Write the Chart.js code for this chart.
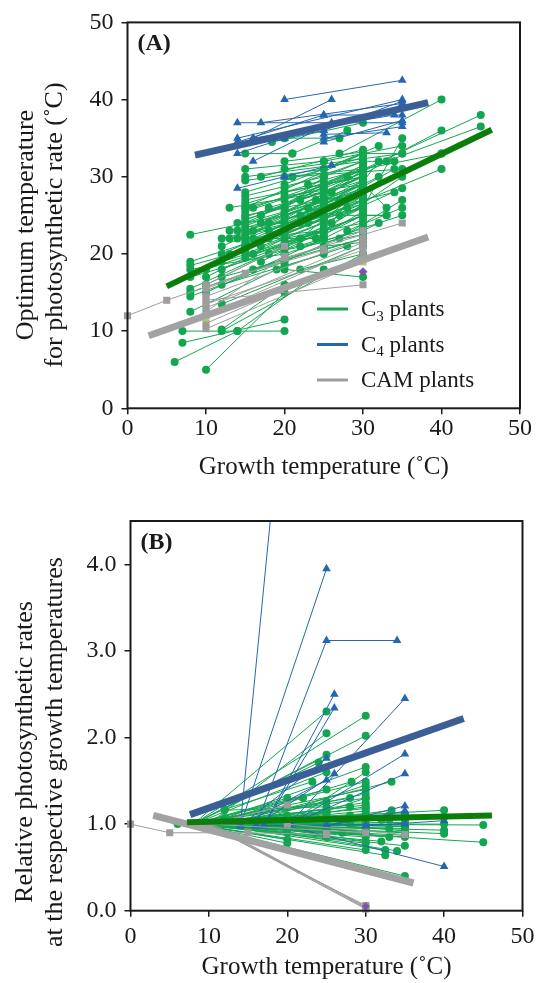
<!DOCTYPE html>
<html>
<head>
<title>Optimum temperature and relative photosynthetic rate vs growth temperature</title>
<script src="https://cdn.jsdelivr.net/npm/chart.js"></script>
<style>
  body { margin: 0; background: #fff; }
  .panel { position: absolute; left: 0; width: 542px; }
  #wrapA { top: 0; height: 490px; }
  #wrapB { top: 490px; height: 493px; }
</style>
</head>
<body>
<div id="wrapA" class="panel"><canvas id="chartA" width="542" height="490"></canvas></div>
<div id="wrapB" class="panel"><canvas id="chartB" width="542" height="493"></canvas></div>
<script>
// each entry: growth temp, value, growth temp, value, ... (one species / study)
const c3OptA = [
  [6,6,14,10], [7,8.5,20,11.5], [7,10,20,10], [10,5,20,15], [12,10,30,20],
  [14,10,25,18], [12,10.2,20,16], [8,12.5,20,18.5], [8,14.5,20,19], [8,15,25,21],
  [8,15.5,20,21], [8,17,25,22], [8,18,20,20], [8,19,20,23], [8,22.5,20,25],
  [12,13.5,30,21], [12,16,25,20], [12,18,30,25], [12,22,25,25], [13,22,30,26],
  [14,22,25,22], [13,26,25,28], [15,27,30,30], [15,26,30,33], [15,25,30,28],
  [15,24,25,27], [15,23,30,29], [15,22,25,23], [15,21,30,27], [15,20,25,24],
  [15,19.5,30,25], [15,29.5,25,31], [15,30,30,32], [15,33,21,33], [17,30,30,33.5],
  [18.4,34.5,30,37], [20,35,27,35], [21,33,28,36], [20,28,30,30], [20,31,35,33],
  [20,30,30,31], [21,30,35,31], [20,25,30,28], [20,22,30,24], [20,20,35,25],
  [20,18,30,17], [22,18,30,20], [25,23,35,30], [25,26,40,33], [25,28,40,36],
  [25,20.5,30,22], [27,25,33,25], [27,22,35,27], [28,26,40,31], [25,29,45,36.5],
  [28,30,45,38], [27,33,40,40], [30,32,34,32], [30,29,33,26], [30,27,34,28],
  [30,25,33,25], [30,26,35,35], [30,23,32,24], [25,31,32,34], [30,33,35,33],
  [17,21,30,26], [18,23,25,26], [10,16,20,21], [10,15,25,22], [12,17,30,22],
  [20,24,32,30], [22,21,30,23], [24,27,30,29], [20,26,25,30], [16,18,25,21],
  [18,20,30,25], [19,18,28,21], [22,25,30,27], [23,29,30,31], [26,24,32,32],
  [15,24.5,20,26], [15,23.5,20,24], [20,27,25,29], [25,25,30,26.5], [22,22,30,28.5],
  [8,18.5,15,20.5], [12,20,20,23.5],
  [15,25.5,30,30.5], [15,24,30,31], [15,22.5,30,28], [15,21.5,25,25], [15,20.5,30,26.5],
  [15,23,25,26], [15,26.5,25,29.5], [15,28,30,32.5], [20,21,30,26], [20,23,30,29.5],
  [20,26,30,31.5], [20,29,30,33], [20,24.5,25,27.5], [20,27.5,30,29], [20,19,30,23.5],
  [25,22,30,24.5], [25,27,30,31], [25,24,35,28.5], [25,30,30,32], [25,21,30,21.5],
  [18,22,30,27.5], [17,24,30,30], [16,26,30,31], [16,22,25,26], [17,19,25,23],
  [13,20,25,24.5], [12,19,25,23], [10,17,20,22], [10,18,25,23], [14,23,30,28.5],
  [22,27,30,30], [23,24,30,26], [24,22,30,25], [26,28,33,32], [27,27,34,31],
  [28,23,35,26], [25,32,35,34], [30,31,40,33], [20,32,30,33.2], [15,31,25,32],
  [15,22,30,27.5], [15,24.8,30,29.5], [15,21,25,24.5], [16,23,30,28], [17,25,30,31.5],
  [18,24,30,29], [20,22.5,30,27], [20,25.5,30,30], [20,28.5,30,32], [20,23.5,25,26],
  [20,21.5,25,23.5], [25,24.5,30,27.5], [25,26.5,30,28.5], [25,28.5,30,30.5], [25,22.5,30,25.5],
  [15,26,25,28.5], [15,27.5,25,30], [12,21,25,26.5], [13,23,25,27], [14,24,30,30],
  [20,20.5,30,22.5], [22,24,30,28], [23,26,30,29.5], [18,26,25,28], [16,20,25,22.5]
];
const c4OptA = [
  [20,40,35,42.5], [14,37,35,37], [17,37,35,39.5], [14,35,35,40], [16,35,34,38],
  [14,34.5,25,38], [14,33,20,35], [16,32,26,37], [14,28.5,20,30], [20,30,26,31.5],
  [25,38,35,38], [25,36,35,39.8], [25,35.5,33,35.7], [25,35,35,36.5], [20,35,25,36],
  [25,34.5,35,37.3], [16,35,26,40]
];
const camOptA = [
  [0,12,5,14,15,17.5,25,20.5], [10,16,20,21], [10,15.5,30,23], [10,14.5,30,22],
  [10,13,30,21.5], [10,12.5,20,19.7], [10,12,30,21], [10,11,30,19.8],
  [10,10.3,30,19], [10,14,30,16], [20,19.5,35,24], [10,13.5,30,20.5]
];
const otherOptA = [[30,17.7]];
const yellowOptA = [[10,11.6], [30,18.9]];

const c3RateB = [
  [8,1,25,2.30], [8,1,30,2.25], [10,1,25,2.05], [8,1,30,2.02], [8,1,25,1.80],
  [10,1,30,1.66], [8,1,24,1.71], [12,1.17,23.2,1.49], [10,1,28.2,1.49], [8,1,30,1.49],
  [12,1,33.3,1.49], [8,1,30,1.40], [8,1,20,1.30], [8,1,25,1.26], [15,1,30,1.20],
  [8,1,40,1.16], [20,1,33.3,1.16], [8,1,35,1.10], [12,1,45,0.99], [8,1,45,0.79],
  [8,1,40,0.93], [10,1,40,0.89], [8,1,35,0.87], [8,1,35,0.40], [12,1,34,0.69],
  [8,1,32.5,0.64], [10,1,32.5,0.70], [8,1,20,0.82], [8,1,20,0.78], [8,1,30,0.78],
  [6,1,20,1.0], [8,1,25,1.05], [8,1,30,1.0], [8,1,30,0.95], [8,1,25,0.92],
  [8,1,35,1.02], [8,1,33,0.95], [15,1,30,1.10], [15,1,25,1.15], [20,1,30,0.90],
  [20,1,35,0.97], [12,1,30,1.25], [12,1.07,20,1.20], [15,1,32,1.05], [25,1,35,0.92],
  [20,1,30,1.30], [8,1,20,1.10], [8,1,28,1.10], [8,1,35,1.12], [12,1.16,25,1.20],
  [10,1,30,0.85], [15,1,30,0.92], [20,1,25,1.10], [25,1,30,1.05], [8,1,40,1.0],
  [20,1,30,1.60], [8,1,25,0.97], [12,1,30,1.15], [15,1,25,0.95], [8,1,22,1.05],
  [8,1,30,1.08], [8,1,30,1.12], [8,1,25,1.08], [10,1,25,1.0], [10,1,35,0.95],
  [8,1,33,1.05], [12,1,30,1.35], [8,1,28,1.2], [8,1,27,0.9], [8,1,30,0.88],
  [10,1,30,1.18], [8,1,35,0.98], [15,1,35,1.05], [8,1,20,0.95], [8,1,20,1.05],
  [12,1,25,0.85], [8,1,25,1.4], [15,1,30,1.45], [8,1,32,0.8], [20,1,28,1.0],
  [8,1,30,0.7], [8,1,25,1.6], [10,1,22,1.3], [8,1,35,0.75], [15,1,40,1.08],
  [8,1,30,1.22], [8,1,25,1.15], [8,1,30,0.92], [10,1,30,1.05], [8,1,35,0.9],
  [12,1,30,0.98], [8,1,28,1.3], [10,1,33,1.1], [8,1,25,1.0], [15,1,30,0.8],
  [8,1,30,1.3], [12,1,35,0.85], [8,1,25,1.12], [10,1,20,0.9], [8,1,33,0.85]
];
const c4RateB = [
  [14,0.98,20,6.5], [14,0.98,25,3.95], [16,0.98,25,3.12,34,3.12], [17,0.98,26,2.50],
  [17,0.98,26,2.34], [20,0.98,35,2.45], [20,0.98,35,1.81], [20,0.98,35,1.58],
  [14,0.98,25,1.76], [16,0.98,26,1.58], [14,0.98,25,1.51], [25,0.98,35,1.21],
  [25,0.98,35,1.15], [20,0.98,40,0.51], [30,0.98,40,1.04], [17,0.98,35,1.0]
];
const camRateB = [
  [0,1,5,0.90,15,0.90,25,0.88], [10,1,30,0.03], [10,1,30,0.05], [10,1.02,30,0.04],
  [9.5,1,30,0.06], [10,0.99,30,0.02], [10,1,20,1.22], [20,1,35,0.88], [10,1,30,0.90]
];
const otherRateB = [[30,0.05]];

// regression lines: x1, y1, x2, y2
const c3FitA = [5.0,15.8,46.4,36.1];
const c4FitA = [8.6,32.8,38.3,39.6];
const camFitA = [2.7,9.4,38.3,22.2];
const c3FitB = [7.2,1.02,46.1,1.10];
const c4FitB = [7.6,1.11,42.5,2.22];
const camFitB = [2.9,1.10,36.1,0.32];

const xTicks = [0, 10, 20, 30, 40, 50];

const C3 = '#13a650', C4 = '#2467b0', CAM = '#9d9d9d';
const INK = '#1a1a1a';
const SERIF = "'Liberation Serif', 'Times New Roman', serif";

function toPoints(list) {
  const pts = [];
  list.forEach(s => {
    for (let i = 0; i < s.length; i += 2) pts.push({x: s[i], y: s[i + 1]});
    pts.push({x: s[s.length - 2], y: null});
  });
  return pts;
}
function fitPoints(f) { return [{x: f[0], y: f[1]}, {x: f[2], y: f[3]}]; }

function seriesSet(list, color, style, radius, order, clip) {
  return {
    data: toPoints(list), showLine: true, spanGaps: false,
    borderColor: color, borderWidth: 1,
    pointStyle: style, pointRadius: radius, pointBackgroundColor: color,
    pointBorderWidth: 0, pointHoverRadius: radius, order: order,
    clip: clip === undefined ? 8 : clip
  };
}
function fitSet(f, color, width) {
  return {
    data: fitPoints(f), showLine: true, borderColor: color, borderWidth: width,
    borderCapStyle: 'butt', pointRadius: 0, order: 0, clip: 8
  };
}
function dotSet(list, color, style, radius) {
  return {
    data: list.map(p => ({x: p[0], y: p[1]})), showLine: false,
    pointStyle: style, pointRadius: radius, pointBackgroundColor: color,
    pointBorderWidth: 0, order: 1, clip: 8
  };
}

// frame, panel letter, rotated y title and the legend with subscripts
const boxPlugin = {
  id: 'box',
  afterDraw(chart, args, opts) {
    const a = chart.chartArea, ctx = chart.ctx;
    ctx.save();
    ctx.strokeStyle = INK;
    ctx.lineWidth = 2;
    ctx.strokeRect(a.left, a.top, a.right - a.left, a.bottom - a.top);
    ctx.fillStyle = INK;
    ctx.font = 'bold 24px ' + SERIF;
    ctx.textBaseline = 'alphabetic';
    ctx.fillText(opts.label, a.left + 10, a.top + 28);

    ctx.save();
    ctx.translate(0, opts.yTitle.y);
    ctx.rotate(-Math.PI / 2);
    ctx.font = '26px ' + SERIF;
    ctx.textAlign = 'center';
    ctx.textBaseline = 'middle';
    opts.yTitle.lines.forEach((t, i) => ctx.fillText(t, 0, opts.yTitle.x[i]));
    ctx.restore();

    if (opts.legend) {
      const rows = [['3', ' plants', C3, 'C'], ['4', ' plants', C4, 'C'], ['', 'CAM plants', CAM, '']];
      rows.forEach((r, i) => {
        const y = opts.legend.y + i * 35.5;
        ctx.strokeStyle = r[2];
        ctx.lineWidth = 3;
        ctx.beginPath();
        ctx.moveTo(opts.legend.x, y);
        ctx.lineTo(opts.legend.x + 31, y);
        ctx.stroke();
        ctx.fillStyle = INK;
        ctx.textBaseline = 'middle';
        let tx = opts.legend.x + 44;
        ctx.font = '23px ' + SERIF;
        if (r[3]) {
          ctx.fillText(r[3], tx, y + 1);
          tx += ctx.measureText(r[3]).width;
          ctx.font = '15px ' + SERIF;
          ctx.fillText(r[0], tx, y + 8);
          tx += ctx.measureText(r[0]).width;
          ctx.font = '23px ' + SERIF;
        }
        ctx.fillText(r[1], tx, y + 1);
      });
    }
    ctx.restore();
  }
};

function tickFont() { return {family: SERIF, size: 24}; }

function makeChart(id, datasets, yOpts, layout, box, xTickPad) {
  return new Chart(document.getElementById(id), {
    type: 'scatter',
    data: {datasets: datasets},
    plugins: [boxPlugin],
    options: {
      responsive: false,
      animation: false,
      events: [],
      layout: {padding: layout.padding},
      plugins: {legend: {display: false}, tooltip: {enabled: false}, box: box},
      scales: {
        x: {
          type: 'linear', min: 0, max: 50,
          afterBuildTicks: s => { s.ticks = xTicks.map(v => ({value: v})); },
          ticks: {font: tickFont(), color: INK, padding: xTickPad, maxRotation: 0},
          grid: {drawOnChartArea: false, drawTicks: true, tickLength: 6, color: INK, lineWidth: 1.5},
          border: {display: false},
          title: {display: true, text: 'Growth temperature (˚C)', font: {family: SERIF, size: 25}, color: INK,
                  padding: {top: 0, bottom: layout.xTitlePad}},
          afterFit: s => { s.height = layout.xHeight; }
        },
        y: Object.assign({
          type: 'linear',
          grid: {drawOnChartArea: false, drawTicks: true, tickLength: 6, color: INK, lineWidth: 1.5},
          border: {display: false},
          afterFit: s => { s.width = layout.yWidth; }
        }, yOpts)
      }
    }
  });
}

makeChart('chartA', [
  fitSet(c3FitA, '#0b7d0b', 6),
  fitSet(c4FitA, '#3a5e96', 7),
  fitSet(camFitA, '#a2a2a2', 7),
  dotSet(otherOptA, '#7a55a8', 'rectRot', 4.5),
  dotSet(yellowOptA, '#b5cf5a', 'rect', 4),
  seriesSet(camOptA, CAM, 'rect', 5, 2),
  seriesSet(c4OptA, C4, 'triangle', 5, 3),
  seriesSet(c3OptA, C3, 'circle', 4, 4)
], {
  min: 0, max: 50,
  ticks: {stepSize: 10, font: tickFont(), color: INK, padding: 8}
}, {padding: {top: 19, right: 22, bottom: 0, left: 0}, xHeight: 81.7, yWidth: 127.5, xTitlePad: 8},
{label: '(A)', legend: {x: 317, y: 309},
 yTitle: {lines: ['Optimum temperature', 'for photosynthetic rate (˚C)'], x: [26, 55], y: 225}}, 0);

makeChart('chartB', [
  fitSet(c3FitB, '#0b7d0b', 6),
  fitSet(c4FitB, '#3a5e96', 7),
  fitSet(camFitB, '#a2a2a2', 7),
  dotSet(otherRateB, '#7a55a8', 'rectRot', 4),
  seriesSet(camRateB, CAM, 'rect', 5, 2),
  seriesSet(c4RateB, C4, 'triangle', 5, 3, {left: 8, top: 0, right: 8, bottom: 8}),
  seriesSet(c3RateB, C3, 'circle', 4, 4)
], {
  min: 0, max: 4.5,
  ticks: {stepSize: 1, includeBounds: false, font: tickFont(), color: INK, padding: 8,
          callback: v => v.toFixed(1)}
}, {padding: {top: 31, right: 19.5, bottom: 0, left: 0}, xHeight: 72.3, yWidth: 130.5, xTitlePad: 1},
{label: '(B)', legend: null,
 yTitle: {lines: ['Relative photosynthetic rates', 'at the respective growth temperatures'], x: [25, 55], y: 262}}, 6);
</script>
</body>
</html>
